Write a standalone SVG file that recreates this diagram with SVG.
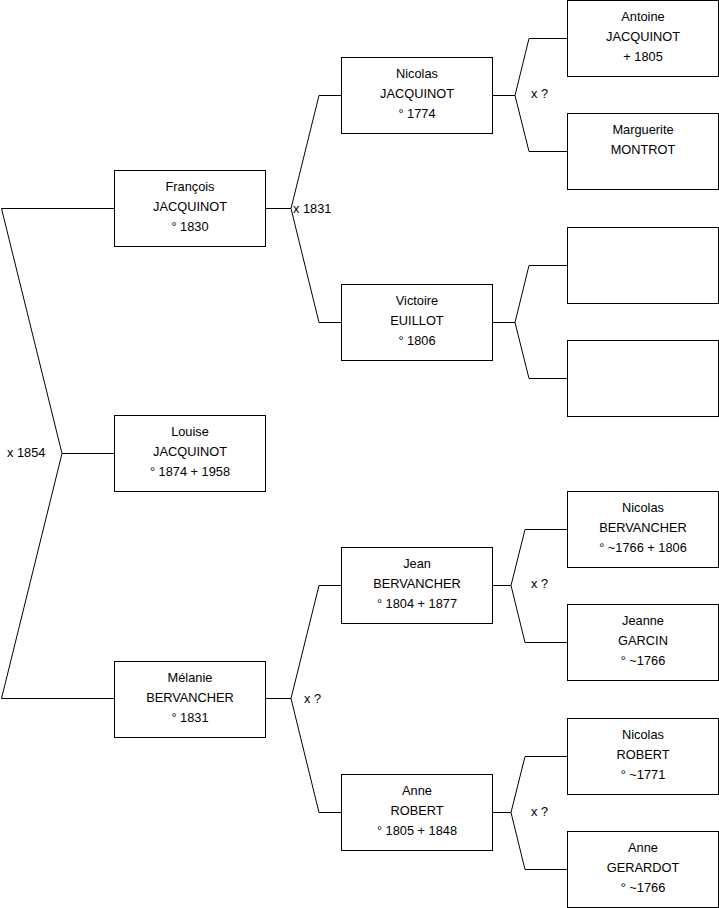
<svg xmlns="http://www.w3.org/2000/svg" width="719" height="908" viewBox="0 0 719 908">
<style>
.box{fill:#fff;stroke:#000;stroke-width:1}
.c{fill:none;stroke:#000;stroke-width:1}
text{font-family:"Liberation Sans",Arial,sans-serif;font-size:12.8px;fill:#000}
.t{text-anchor:middle}
</style>
<rect width="719" height="908" fill="#fff"/>
<g id="connectors">
<path class="c" d="M114,208.5H1.5L62,453.5L1.5,698.5H114M62,453.5H114"/>
<path class="c" d="M265,208.5H291L319,95.5H341M291,208.5L319,322.5H341"/>
<path class="c" d="M265,698.5H291L319,585.5H341M291,698.5L319,812.5H341"/>
<path class="c" d="M492,95.5H515L529,38.5H567M515,95.5L529,151.5H567"/>
<path class="c" d="M492,322.5H515L529,265.5H567M515,322.5L529,378.5H567"/>
<path class="c" d="M492,585.5H511L525,529.5H567M511,585.5L525,642.5H567"/>
<path class="c" d="M492,812.5H511L525,756.5H567M511,812.5L525,869.5H567"/>
<text x="7" y="457">x 1854</text>
<text x="293" y="213">x 1831</text>
<text x="531" y="98">x ?</text>
<text x="304" y="703">x ?</text>
<text x="531" y="588">x ?</text>
<text x="531" y="816">x ?</text>
</g>
<g id="francois"><rect class="box" x="114.5" y="170.5" width="151" height="76"/><text class="t" x="190" y="191">François</text><text class="t" x="190" y="211">JACQUINOT</text><text class="t" x="190" y="231">° 1830</text></g>
<g id="louise"><rect class="box" x="114.5" y="415.5" width="151" height="76"/><text class="t" x="190" y="436">Louise</text><text class="t" x="190" y="456">JACQUINOT</text><text class="t" x="190" y="476">° 1874 + 1958</text></g>
<g id="melanie"><rect class="box" x="114.5" y="661.5" width="151" height="76"/><text class="t" x="190" y="682">Mélanie</text><text class="t" x="190" y="702">BERVANCHER</text><text class="t" x="190" y="722">° 1831</text></g>
<g id="nicolas-j"><rect class="box" x="341.5" y="57.5" width="151" height="76"/><text class="t" x="417" y="78">Nicolas</text><text class="t" x="417" y="98">JACQUINOT</text><text class="t" x="417" y="118">° 1774</text></g>
<g id="victoire"><rect class="box" x="341.5" y="284.5" width="151" height="76"/><text class="t" x="417" y="305">Victoire</text><text class="t" x="417" y="325">EUILLOT</text><text class="t" x="417" y="345">° 1806</text></g>
<g id="jean"><rect class="box" x="341.5" y="547.5" width="151" height="76"/><text class="t" x="417" y="568">Jean</text><text class="t" x="417" y="588">BERVANCHER</text><text class="t" x="417" y="608">° 1804 + 1877</text></g>
<g id="anne-r"><rect class="box" x="341.5" y="774.5" width="151" height="76"/><text class="t" x="417" y="795">Anne</text><text class="t" x="417" y="815">ROBERT</text><text class="t" x="417" y="835">° 1805 + 1848</text></g>
<g id="antoine"><rect class="box" x="567.5" y="0.5" width="151" height="76"/><text class="t" x="643" y="21">Antoine</text><text class="t" x="643" y="41">JACQUINOT</text><text class="t" x="643" y="61">+ 1805</text></g>
<g id="marguerite"><rect class="box" x="567.5" y="113.5" width="151" height="76"/><text class="t" x="643" y="134">Marguerite</text><text class="t" x="643" y="154">MONTROT</text></g>
<g id="blank1"><rect class="box" x="567.5" y="227.5" width="151" height="76"/></g>
<g id="blank2"><rect class="box" x="567.5" y="340.5" width="151" height="76"/></g>
<g id="nicolas-b"><rect class="box" x="567.5" y="491.5" width="151" height="76"/><text class="t" x="643" y="512">Nicolas</text><text class="t" x="643" y="532">BERVANCHER</text><text class="t" x="643" y="552">° ~1766 + 1806</text></g>
<g id="jeanne"><rect class="box" x="567.5" y="604.5" width="151" height="76"/><text class="t" x="643" y="625">Jeanne</text><text class="t" x="643" y="645">GARCIN</text><text class="t" x="643" y="665">° ~1766</text></g>
<g id="nicolas-r"><rect class="box" x="567.5" y="718.5" width="151" height="76"/><text class="t" x="643" y="739">Nicolas</text><text class="t" x="643" y="759">ROBERT</text><text class="t" x="643" y="779">° ~1771</text></g>
<g id="anne-g"><rect class="box" x="567.5" y="831.5" width="151" height="76"/><text class="t" x="643" y="852">Anne</text><text class="t" x="643" y="872">GERARDOT</text><text class="t" x="643" y="892">° ~1766</text></g>
</svg>
